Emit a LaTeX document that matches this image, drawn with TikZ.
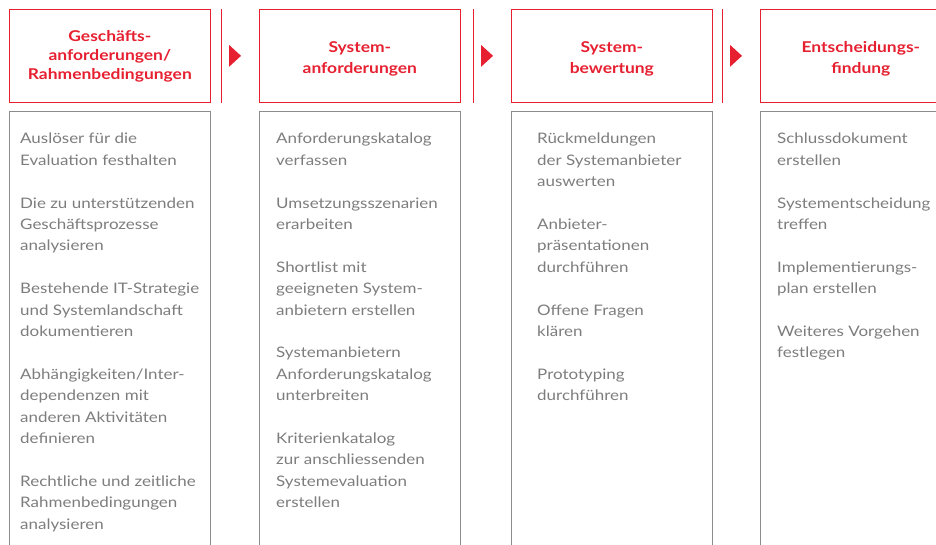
\documentclass[tikz,border=0pt]{standalone}
\usepackage{fontspec}
\setmainfont{Lato}[FakeStretch=1.17]
\usetikzlibrary{positioning}
\definecolor{evalred}{RGB}{230,32,48}
\definecolor{boxgray}{RGB}{140,140,140}
\definecolor{textgray}{RGB}{125,125,125}
\tikzset{
    headbox/.style={draw=evalred, line width=0.7pt, text=evalred,
        font=\bfseries\fontsize{14.9}{19}\selectfont, align=center,
        minimum width=201pt, minimum height=93pt, inner sep=0pt,
        anchor=north west},
    twoline/.style={font=\bfseries\fontsize{14.9}{21}\selectfont},
    bodybox/.style={draw=boxgray, line width=1pt, minimum width=201pt,
        minimum height=470pt, inner sep=0pt, anchor=north west},
    bodytext/.style={text=textgray, font=\fontsize{14.5}{21.4}\selectfont,
        align=left, inner sep=0pt, anchor=north west},
    sepline/.style={draw=evalred, line width=0.8pt}
}
\begin{document}
\begin{tikzpicture}[x=1pt, y=-1pt]
    \useasboundingbox (0,0) rectangle (936,544);
    \clip (0,0) rectangle (936,544);

    % phase headers
    \node[headbox] (head1) at (9,9) {Geschäfts-\\anforderungen/\\Rahmenbedingungen};
    \node[headbox, twoline] (head2) at (259,9) {\rule{0pt}{16pt}System-\\anforderungen};
    \node[headbox, twoline] (head3) at (511,9) {\rule{0pt}{16pt}System-\\bewertung};
    \node[headbox, twoline] (head4) at (760,9) {\rule{0pt}{16pt}Entscheidungs-\\findung};

    % boxes for the activities
    \foreach \name/\x in {box1/9, box2/259, box3/511, box4/760}
    {
        \node[bodybox] (\name) at (\x,111) {};
    }

    % separator and arrow in front of each next phase
    \foreach \prev/\next in {head1/head2, head2/head3, head3/head4}
    {
        \draw[sepline] ([xshift=-38pt]\next.north west) -- ([xshift=-38pt]\next.south west);
        \fill[evalred] ([xshift=-30pt, yshift=11pt]\next.west)
            -- ([xshift=-18pt]\next.west)
            -- ([xshift=-30pt, yshift=-11pt]\next.west) -- cycle;
    }

    % activities
    \node[bodytext] (list1) at (20,133) {%
        Auslöser für die\\Evaluation festhalten\\[21.4pt]
        Die zu unterstützenden\\Geschäftsprozesse\\analysieren\\[21.4pt]
        Bestehende IT-Strategie\\und Systemlandschaft\\dokumentieren\\[21.4pt]
        Abhängigkeiten/Inter-\\dependenzen mit\\anderen Aktivitäten\\definieren\\[21.4pt]
        Rechtliche und zeitliche\\Rahmenbedingungen\\analysieren};
    \node[bodytext] (list2) at (276,133) {%
        Anforderungskatalog\\verfassen\\[21.4pt]
        Umsetzungsszenarien\\erarbeiten\\[21.4pt]
        Shortlist mit\\geeigneten System-\\anbietern erstellen\\[21.4pt]
        Systemanbietern\\Anforderungskatalog\\unterbreiten\\[21.4pt]
        Kriterienkatalog\\zur anschliessenden\\Systemevaluation\\erstellen};
    \node[bodytext] (list3) at (537,133) {%
        Rückmeldungen\\der Systemanbieter\\auswerten\\[21.4pt]
        Anbieter-\\präsentationen\\durchführen\\[21.4pt]
        Offene Fragen\\klären\\[21.4pt]
        Prototyping\\durchführen};
    \node[bodytext] (list4) at (777,133) {%
        Schlussdokument\\erstellen\\[21.4pt]
        Systementscheidung\\treffen\\[21.4pt]
        Implementierungs-\\plan erstellen\\[21.4pt]
        Weiteres Vorgehen\\festlegen};
\end{tikzpicture}
\end{document}
